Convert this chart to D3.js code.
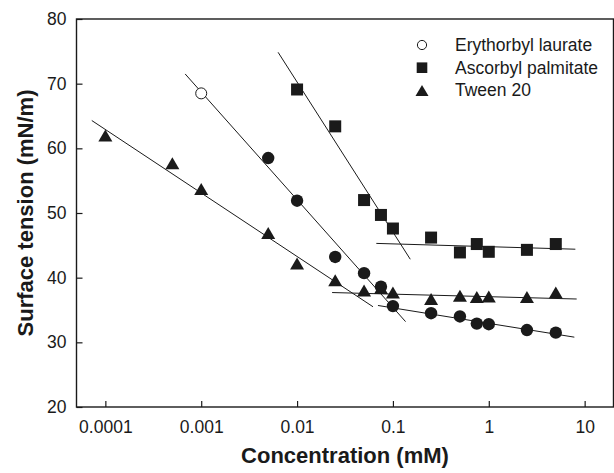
<!DOCTYPE html>
<html>
<head>
<meta charset="utf-8">
<script src="https://cdn.jsdelivr.net/npm/d3@7"></script>
<style>
  html, body { margin: 0; padding: 0; background: #fff; }
  svg { display: block; font-family: Arial, "Liberation Sans", sans-serif; }
</style>
</head>
<body>
<div id="chart"></div>
<script>
// ---- data ----
const xTicks = [0.0001, 0.001, 0.01, 0.1, 1, 10];
const xTickLabels = ['0.0001', '0.001', '0.01', '0.1', '1', '10'];
const yTicks = [20, 30, 40, 50, 60, 70, 80];

// Erythorbyl laurate (circles, first point open)
const circleConc = [0.001, 0.005, 0.01, 0.025, 0.05, 0.075, 0.1, 0.25, 0.5, 0.75, 1, 2.5, 5];
const circleTension = [68.5, 58.5, 51.9, 43.2, 40.7, 38.6, 35.6, 34.5, 34.0, 32.9, 32.8, 31.9, 31.5];
const circleOpen = [true, false, false, false, false, false, false, false, false, false, false, false, false];

// Ascorbyl palmitate (squares)
const squareConc = [0.01, 0.025, 0.05, 0.075, 0.1, 0.25, 0.5, 0.75, 1, 2.5, 5];
const squareTension = [69.1, 63.4, 52.0, 49.7, 47.6, 46.2, 43.9, 45.2, 44.0, 44.3, 45.2];

// Tween 20 (triangles)
const triConc = [0.0001, 0.0005, 0.001, 0.005, 0.01, 0.025, 0.05, 0.075, 0.1, 0.25, 0.5, 0.75, 1, 2.5, 5];
const triTension = [62.0, 57.7, 53.7, 46.9, 42.2, 39.6, 38.0, 38.4, 37.7, 36.7, 37.2, 37.0, 37.1, 37.0, 37.7];

// regression lines: [conc1, tension1, conc2, tension2]
const fitLines = [
  [0.0000722, 64.3, 0.062, 35.5],   // tween, steep
  [0.0232, 37.7, 8.26, 36.7],       // tween, plateau
  [0.00068, 71.5, 0.1355, 33.2],    // erythorbyl, steep
  [0.0698, 35.7, 7.81, 30.8],       // erythorbyl, plateau
  [0.00634, 74.85, 0.1517, 42.85],  // ascorbyl, steep
  [0.0671, 45.3, 8.0, 44.4]         // ascorbyl, plateau
];

const legendLabels = ['Erythorbyl laurate', 'Ascorbyl palmitate', 'Tween 20'];

// ---- layout ----
const W = 614, H = 473;
const ink = '#1a1a1a';

const svg = d3.select('#chart')
  .append('svg')
  .attr('width', W)
  .attr('height', H);

const x = d3.scaleLog()
  .domain([0.00005, 20])
  .range([76.5, 613.5]);

const y = d3.scaleLinear()
  .domain([20, 80])
  .range([407, 19]);

// axes (ticks point inward)
svg.append('g')
  .attr('transform', `translate(0,${y(20)})`)
  .call(d3.axisBottom(x)
    .tickValues(xTicks)
    .tickFormat((d, i) => xTickLabels[i])
    .tickSizeInner(-6)
    .tickSizeOuter(0)
    .tickPadding(14))
  .call(g => g.select('.domain').remove())
  .call(g => g.selectAll('line').attr('stroke', ink).attr('stroke-width', 1.2))
  .call(g => g.selectAll('text').attr('fill', ink).style('font-size', '17.5px'));

svg.append('g')
  .attr('transform', `translate(${x.range()[0]},0)`)
  .call(d3.axisLeft(y)
    .tickValues(yTicks)
    .tickSizeInner(-6)
    .tickSizeOuter(0)
    .tickPadding(10))
  .call(g => g.select('.domain').remove())
  .call(g => g.selectAll('line').attr('stroke', ink).attr('stroke-width', 1.2))
  .call(g => g.selectAll('text').attr('fill', ink).style('font-size', '17.5px'));

// frame
svg.append('rect')
  .attr('x', x.range()[0])
  .attr('y', y.range()[1])
  .attr('width', x.range()[1] - x.range()[0])
  .attr('height', y.range()[0] - y.range()[1])
  .attr('fill', 'none')
  .attr('stroke', ink)
  .attr('stroke-width', 1.4);

// fit lines
svg.selectAll('.fit')
  .data(fitLines)
  .join('line')
  .attr('class', 'fit')
  .attr('x1', d => x(d[0]))
  .attr('y1', d => y(d[1]))
  .attr('x2', d => x(d[2]))
  .attr('y2', d => y(d[3]))
  .attr('stroke', ink)
  .attr('stroke-width', 1);

// markers
const triPath = (w, h) => `M0,${-h / 2}L${w / 2},${h / 2}L${-w / 2},${h / 2}Z`;

svg.selectAll('.tri')
  .data(triConc.map((c, i) => [c, triTension[i]]))
  .join('path')
  .attr('class', 'tri')
  .attr('d', triPath(14, 12))
  .attr('transform', d => `translate(${x(d[0])},${y(d[1])})`)
  .attr('fill', ink);

svg.selectAll('.sq')
  .data(squareConc.map((c, i) => [c, squareTension[i]]))
  .join('rect')
  .attr('class', 'sq')
  .attr('x', d => x(d[0]) - 6)
  .attr('y', d => y(d[1]) - 6)
  .attr('width', 12)
  .attr('height', 12)
  .attr('fill', ink);

svg.selectAll('.circ')
  .data(circleConc.map((c, i) => [c, circleTension[i], circleOpen[i]]))
  .join('circle')
  .attr('class', 'circ')
  .attr('cx', d => x(d[0]))
  .attr('cy', d => y(d[1]))
  .attr('r', d => d[2] ? 5.5 : 6.2)
  .attr('fill', d => d[2] ? '#fff' : ink)
  .attr('stroke', ink)
  .attr('stroke-width', d => d[2] ? 1 : 0);

// legend
const legend = svg.append('g').attr('transform', 'translate(422,45)');
legendLabels.forEach((label, i) => {
  const g = legend.append('g').attr('transform', `translate(0,${i * 22.7})`);
  if (i === 0) {
    g.append('circle').attr('r', 4.6).attr('fill', '#fff').attr('stroke', ink).attr('stroke-width', 1);
  } else if (i === 1) {
    g.append('rect').attr('x', -5.3).attr('y', -5.3).attr('width', 10.6).attr('height', 10.6).attr('fill', ink);
  } else {
    g.append('path').attr('d', triPath(13, 11)).attr('fill', ink);
  }
  g.append('text')
    .attr('x', 33)
    .attr('y', 6)
    .text(label)
    .style('font-size', '17.5px')
    .attr('fill', ink);
});

// axis titles
svg.append('text')
  .attr('x', (x.range()[0] + x.range()[1]) / 2)
  .attr('y', 463)
  .attr('text-anchor', 'middle')
  .style('font-size', '22px')
  .style('font-weight', 'bold')
  .attr('fill', ink)
  .text('Concentration (mM)');

svg.append('text')
  .attr('transform', `translate(33,${(y.range()[0] + y.range()[1]) / 2}) rotate(-90)`)
  .attr('text-anchor', 'middle')
  .style('font-size', '22px')
  .style('font-weight', 'bold')
  .attr('fill', ink)
  .text('Surface tension (mN/m)');
</script>
</body>
</html>
